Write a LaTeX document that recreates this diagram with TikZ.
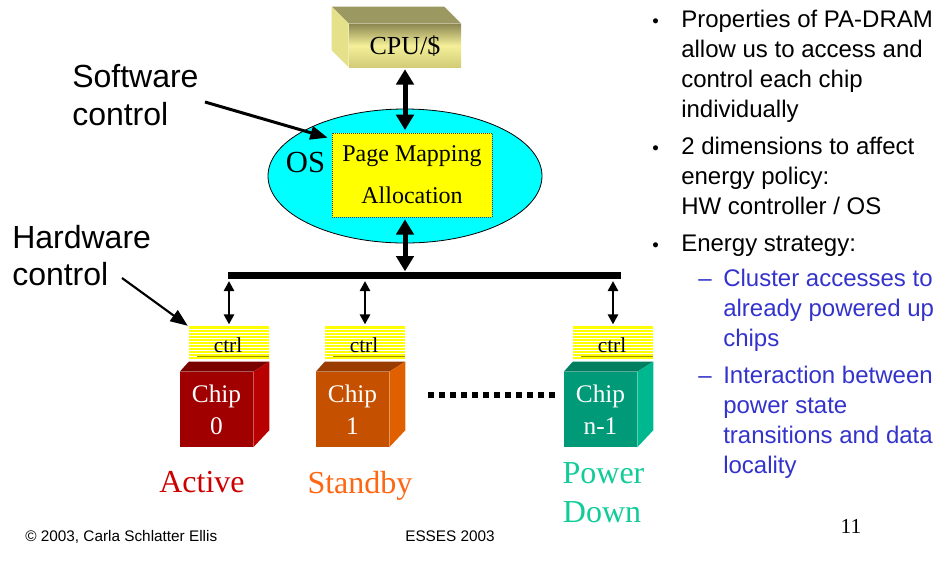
\documentclass[tikz,border=0pt]{standalone}
\usepackage{fontspec}
\setmainfont{Liberation Serif}
\setsansfont{Liberation Sans}
\usetikzlibrary{arrows.meta,calc,shapes.geometric}

\definecolor{osCyan}{HTML}{00FFFF}
\definecolor{pmYellow}{HTML}{FFFF00}
\definecolor{cpuDark}{HTML}{8C8852}
\definecolor{cpuLight}{HTML}{F4EF98}
\definecolor{cpuLow}{HTML}{D2CC78}
\definecolor{cpuTop}{HTML}{9C9862}
\definecolor{cpuSide}{HTML}{E5E08A}
\definecolor{redFront}{HTML}{A00000}
\definecolor{redTop}{HTML}{7A0000}
\definecolor{redSide}{HTML}{B80000}
\definecolor{orFront}{HTML}{C45000}
\definecolor{orTop}{HTML}{9A3C00}
\definecolor{orSide}{HTML}{E06000}
\definecolor{tlFront}{HTML}{009A78}
\definecolor{tlTop}{HTML}{007E60}
\definecolor{tlSide}{HTML}{00B890}
\definecolor{activeRed}{HTML}{CC0000}
\definecolor{standbyOr}{HTML}{FF6611}
\definecolor{downTeal}{HTML}{11CC99}
\definecolor{subBlue}{HTML}{3333CC}
\definecolor{ctrlEdge}{HTML}{A09000}

% one chip: front face, top and side faces, and its striped controller
% #1 chip name, #2 x of front centre, #3 chip number, #4 front, #5 top, #6 side, #7 controller name
\newcommand{\drawchip}[7]{%
  \node[chipface, fill=#4] (#1) at (#2,409.5) {Chip\\#3};
  \fill[#5] (#1.north west) -- ++(9,-10) -- ($(#1.north east)+(16,-10)$) -- (#1.north east) -- cycle;
  \fill[#6] (#1.north east) -- ++(16,-10) -- ($(#1.south east)+(16,-17)$) -- (#1.south east) -- cycle;
  \node[ctrlbox] (#7) at ($(#1)+(12.5,-66.5)$) {};
  \draw[ctrlEdge, line width=0.6pt] ($(#7.south west)+(8,-4)$) -- ($(#7.south east)+(0,-4)$);
  \node[ctrltxt, anchor=base] (#7t) at ($(#7.south)+(-1,-8)$) {ctrl};
}

\begin{document}
\begin{tikzpicture}[x=0.75pt,y=-0.75pt,
  sans/.style={font=\sffamily\fontsize{18pt}{22.5pt}\selectfont, inner sep=0pt},
  bigsans/.style={font=\sffamily\fontsize{24pt}{28pt}\selectfont, inner sep=0pt},
  serif/.style={font=\fontsize{#1}{#1}\selectfont, inner sep=0pt},
  chipface/.style={minimum width=54.75pt, minimum height=56.25pt, inner sep=0pt,
    text=white, align=center, font=\fontsize{19pt}{24pt}\selectfont},
  ctrlbox/.style={minimum width=60pt, minimum height=25.5pt, inner sep=0pt, fill=pmYellow,
    path picture={\foreach \k in {1,...,11}
      \draw[white, line width=0.55pt] ($(path picture bounding box.north west)+(0,\k*3)$) -- ++(82,0);}},
  ctrltxt/.style={font=\fontsize{16pt}{16pt}\selectfont, inner sep=0pt},
  bigdbl/.style={line width=3.75pt, {Triangle[length=11.5pt,width=13pt]}-{Triangle[length=11.5pt,width=13pt]}},
  smalldbl/.style={line width=2pt, {Triangle[length=7.5pt,width=7.5pt]}-{Triangle[length=7.5pt,width=7.5pt]}},
  pointer/.style={line width=#1, -{Triangle[length=13pt,width=10pt]}},
  bus/.style={line width=5.25pt},
  dotrow/.style={line width=4.5pt, dash pattern=on 4.5pt off 3.75pt}
]
\useasboundingbox (0,0) rectangle (937,569);

% ---- CPU / cache block ----
\node[minimum width=84pt, minimum height=32.25pt, inner sep=0pt,
      top color=cpuDark, bottom color=cpuLow, middle color=cpuLight,
      font=\fontsize{19.5pt}{19.5pt}\selectfont, text height=13pt, text depth=0pt]
      (cpu) at (405,45.5) {CPU/\$};
\fill[cpuTop] (cpu.north west) -- ++(-17,-17) -- ($(cpu.north east)+(-17,-17)$) -- (cpu.north east) -- cycle;
\fill[cpuSide] (cpu.north west) -- ++(-17,-17) -- ($(cpu.south west)+(-17,-17)$) -- (cpu.south west) -- cycle;

% ---- operating system ----
\node[ellipse, draw, line width=0.6pt, fill=osCyan, minimum width=205.5pt, minimum height=100.5pt,
      inner sep=0pt] (os) at (405,176) {};
\node[serif=23pt, anchor=base] (oslbl) at (305.5,172) {OS};
\node[fill=pmYellow, draw=black!75, densely dotted, line width=0.5pt,
      minimum width=120pt, minimum height=63pt, inner sep=0pt, align=center,
      font=\fontsize{18pt}{31.5pt}\selectfont] (pm) at (412,175) {Page Mapping\\Allocation};

% ---- memory bus ----
\coordinate (busL) at (228,275.5);
\coordinate (busR) at (621,275.5);
\draw[bus] (busL) -- (busR);
\coordinate (busC) at (405,272);

\draw[bigdbl, shorten <=1.5pt, shorten >=2pt] (cpu.south) -- (cpu.south |- pm.north);
\draw[bigdbl, shorten <=1.5pt, shorten >=0.5pt] (busC |- pm.south) -- (busC);

% ---- chips ----
\drawchip{c0}{216.5}{0}{redFront}{redTop}{redSide}{k0}
\drawchip{c1}{352.5}{1}{orFront}{orTop}{orSide}{k1}
\drawchip{c2}{600.5}{n-1}{tlFront}{tlTop}{tlSide}{k2}

\coordinate (b0) at (229,279);
\coordinate (b1) at (365,279);
\coordinate (b2) at (613,279);
\draw[smalldbl, shorten <=1.5pt, shorten >=1pt] (b0) -- (k0.north);
\draw[smalldbl, shorten <=1.5pt, shorten >=1pt] (b1) -- (k1.north);
\draw[smalldbl, shorten <=1.5pt, shorten >=1pt] (b2) -- (k2.north);

\coordinate (dotsL) at (428,395);
\coordinate (dotsR) at (556,395);
\draw[dotrow] (dotsL) -- (dotsR);

% ---- power states ----
\node[serif=24pt, anchor=base, text=activeRed] (st0) at (202,492) {Active};
\node[serif=24pt, anchor=base, text=standbyOr] (st1) at (360,493) {Standby};
\node[serif=24pt, anchor=base, text=downTeal] (st2a) at (603.5,483) {Power};
\node[serif=24pt, anchor=base, text=downTeal] (st2b) at (602,522) {Down};

% ---- control labels ----
\node[bigsans, anchor=base west] (sw1) at (72,87) {Software};
\node[bigsans, anchor=base west] (sw2) at (72,125) {control};
\node[bigsans, anchor=base west] (hw1) at (12,248) {Hardware};
\node[bigsans, anchor=base west] (hw2) at (12,285) {control};
\coordinate (swfrom) at (205,102);
\coordinate (hwfrom) at (122,278);
\draw[pointer=2.25pt] (swfrom) -- ($(pm.north west)+(-4,5)$);
\draw[pointer=1.6pt] (hwfrom) -- ($(k0.north west)+(-1,0)$);

% ---- bullet text ----
\node[sans, anchor=base west, font=\sffamily\fontsize{14pt}{14pt}\selectfont] (d1) at (652,27) {•};
\node[sans, anchor=base west] (p1a) at (681,27) {Properties of PA-DRAM};
\node[sans, anchor=base west] (p1b) at (681,57) {allow us to access and};
\node[sans, anchor=base west] (p1c) at (681,87) {control each chip};
\node[sans, anchor=base west] (p1d) at (681,117) {individually};
\node[sans, anchor=base west, font=\sffamily\fontsize{14pt}{14pt}\selectfont] (d2) at (652,154) {•};
\node[sans, anchor=base west] (p2a) at (681,154) {2 dimensions to affect};
\node[sans, anchor=base west] (p2b) at (681,184) {energy policy:};
\node[sans, anchor=base west] (p2c) at (681,214) {HW controller / OS};
\node[sans, anchor=base west, font=\sffamily\fontsize{14pt}{14pt}\selectfont] (d3) at (652,251) {•};
\node[sans, anchor=base west] (p3a) at (681,251) {Energy strategy:};
\node[sans, anchor=base west, text=subBlue] (e1) at (698,286) {–};
\node[sans, anchor=base west, text=subBlue] (s1a) at (723,286) {Cluster accesses to};
\node[sans, anchor=base west, text=subBlue] (s1b) at (723,316) {already powered up};
\node[sans, anchor=base west, text=subBlue] (s1c) at (723,346) {chips};
\node[sans, anchor=base west, text=subBlue] (e2) at (698,383) {–};
\node[sans, anchor=base west, text=subBlue] (s2a) at (723,383) {Interaction between};
\node[sans, anchor=base west, text=subBlue] (s2b) at (723,413) {power state};
\node[sans, anchor=base west, text=subBlue] (s2c) at (723,443) {transitions and data};
\node[sans, anchor=base west, text=subBlue] (s2d) at (723,473) {locality};

% ---- footer ----
\node[anchor=base west, inner sep=0pt, font=\sffamily\fontsize{11.5pt}{11.5pt}\selectfont] (foot1) at (25,541) {\textcopyright\ 2003, Carla Schlatter Ellis};
\node[anchor=base west, inner sep=0pt, font=\sffamily\fontsize{11.5pt}{11.5pt}\selectfont] (foot2) at (405,541) {ESSES 2003};
\node[serif=16pt, anchor=base] (pgno) at (851,533) {11};
\end{tikzpicture}
\end{document}
